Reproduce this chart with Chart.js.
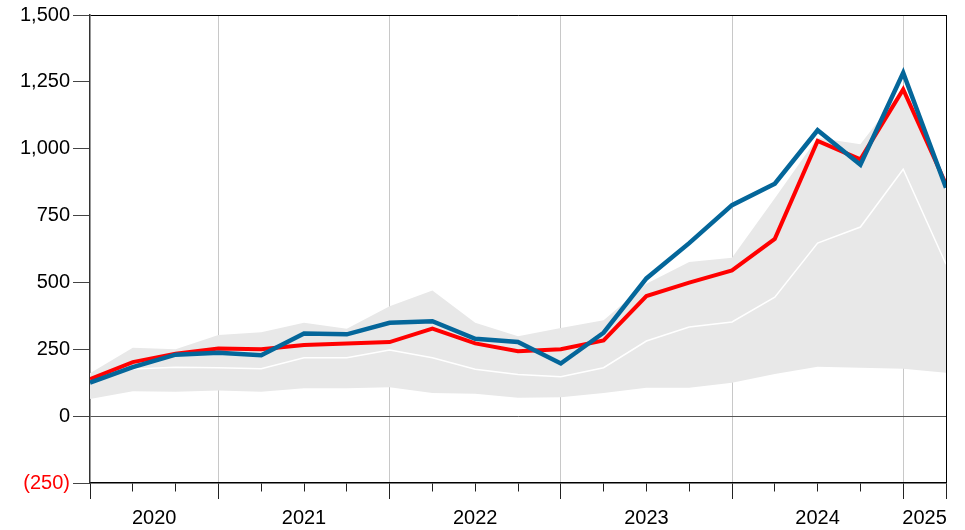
<!DOCTYPE html>
<html>
<head>
<meta charset="utf-8">
<script src="https://cdn.jsdelivr.net/npm/chart.js@4"></script>
<style>
  html, body { margin: 0; padding: 0; background: #fff; }
  #wrap { width: 965px; height: 530px; }
</style>
</head>
<body>
<div id="wrap"><canvas id="myChart"></canvas></div>
<script>
'use strict';

// quarter ends, Q1 2020 .. Q1 2025
let quarters = ['2020 Q1', '2020 Q2', '2020 Q3', '2020 Q4',
                '2021 Q1', '2021 Q2', '2021 Q3', '2021 Q4',
                '2022 Q1', '2022 Q2', '2022 Q3', '2022 Q4',
                '2023 Q1', '2023 Q2', '2023 Q3', '2023 Q4',
                '2024 Q1', '2024 Q2', '2024 Q3', '2024 Q4',
                '2025 Q1'];
let years = ['2020', '2021', '2022', '2023', '2024', '2025'];
let yearCenters = [1.5, 5, 9, 13, 17, 19.5];
let yearEnds = [3, 7, 11, 15, 19];
let yMin = -250;
let yMax = 1500;
let yStep = 250;

let blueLine = [125, 183, 230, 237, 228, 309, 306, 349, 355, 289, 277, 197, 312, 515, 647, 789, 869, 1069, 940, 1284, 854];
let redLine = [138, 202, 233, 253, 250, 266, 272, 277, 327, 272, 243, 250, 283, 449, 499, 545, 663, 1029, 960, 1222, 867];
let bandHigh = [160, 256, 250, 303, 314, 349, 327, 411, 470, 349, 299, 330, 359, 495, 576, 592, 815, 1041, 1017, 1225, 845];
let bandMid = [135, 176, 183, 181, 177, 218, 218, 247, 218, 175, 156, 147, 181, 281, 333, 352, 445, 647, 707, 923, 568];
let bandLow = [64, 93, 91, 96, 91, 104, 104, 108, 87, 84, 69, 71, 87, 106, 106, 125, 158, 185, 181, 177, 162];

let lastIdx = quarters.length - 1;

function toPoints(arr) {
    return arr.map(function (v, i) { return { x: i, y: v }; });
}

function fmt(v) {
    if (v < 0) {
        return '(' + Math.abs(v).toLocaleString('en-US') + ')';
    }
    return v.toLocaleString('en-US');
}

let fontSpec = { family: '"Liberation Sans", Arial, sans-serif', size: 20 };

let ctx = document.getElementById('myChart').getContext('2d');

let chart = new Chart(ctx, {
    type: 'line',
    data: {
        datasets: [
            {
                label: 'low',
                data: toPoints(bandLow),
                borderWidth: 0,
                borderColor: 'rgba(0,0,0,0)',
                pointRadius: 0,
                fill: false,
                order: 5
            },
            {
                label: 'high',
                data: toPoints(bandHigh),
                borderWidth: 0,
                borderColor: 'rgba(0,0,0,0)',
                backgroundColor: '#e8e8e8',
                pointRadius: 0,
                fill: '-1',
                order: 4
            },
            {
                label: 'median',
                data: toPoints(bandMid),
                borderWidth: 1.5,
                borderColor: '#ffffff',
                pointRadius: 0,
                fill: false,
                order: 3
            },
            {
                label: 'red',
                data: toPoints(redLine),
                borderWidth: 4,
                borderColor: '#ff0000',
                pointRadius: 0,
                fill: false,
                order: 2
            },
            {
                label: 'blue',
                data: toPoints(blueLine),
                borderWidth: 4.5,
                borderColor: '#04669a',
                pointRadius: 0,
                fill: false,
                order: 1
            }
        ]
    },
    options: {
        responsive: true,
        maintainAspectRatio: false,
        animation: false,
        devicePixelRatio: 1,
        layout: { padding: { top: 14, right: 19, bottom: 1, left: 0 } },
        plugins: {
            legend: { display: false },
            tooltip: { enabled: false }
        },
        elements: { line: { tension: 0, borderJoinStyle: 'miter' } },
        scales: {
            x: {
                type: 'linear',
                position: 'bottom',
                min: 0,
                max: lastIdx,
                afterFit: function (scale) { scale.height = 16; },
                ticks: { stepSize: 1, display: false },
                grid: {
                    color: function (c) {
                        let v = c.tick ? c.tick.value : -1;
                        if (v === lastIdx) return '#000000';
                        if (yearEnds.includes(v)) return '#c8c8c8';
                        return 'rgba(0,0,0,0)';
                    },
                    tickColor: '#222222',
                    tickLength: 16,
                    tickBorderDash: function (c) {
                        let v = c.tick ? c.tick.value : -1;
                        if (v === 0 || v === lastIdx || yearEnds.includes(v)) return [];
                        return [8, 40];
                    },
                    lineWidth: 1
                },
                border: { color: '#000000', width: 1.5 }
            },
            x2: {
                type: 'linear',
                position: 'bottom',
                min: 0,
                max: lastIdx,
                afterFit: function (scale) { scale.height = 30; },
                afterBuildTicks: function (scale) {
                    scale.ticks = yearCenters.map(function (v) { return { value: v }; });
                },
                ticks: {
                    autoSkip: false,
                    maxRotation: 0,
                    padding: 7,
                    color: '#000000',
                    font: fontSpec,
                    callback: function (v, i) { return years[i]; }
                },
                grid: { display: false, drawTicks: false },
                border: { display: false }
            },
            y: {
                min: yMin,
                max: yMax,
                afterFit: function (scale) { scale.width = 90; },
                ticks: {
                    stepSize: yStep,
                    padding: 3,
                    font: fontSpec,
                    color: function (c) { return c.tick && c.tick.value < 0 ? '#ff0000' : '#000000'; },
                    callback: function (v) { return fmt(v); }
                },
                grid: {
                    color: function (c) {
                        let v = c.tick ? c.tick.value : null;
                        if (v === 0) return '#555555';
                        if (v === yMax) return '#000000';
                        return 'rgba(0,0,0,0)';
                    },
                    tickColor: '#444444',
                    tickLength: 17,
                    lineWidth: 1
                },
                border: { color: '#333333', width: 1.5 }
            }
        }
    }
});
</script>
</body>
</html>
